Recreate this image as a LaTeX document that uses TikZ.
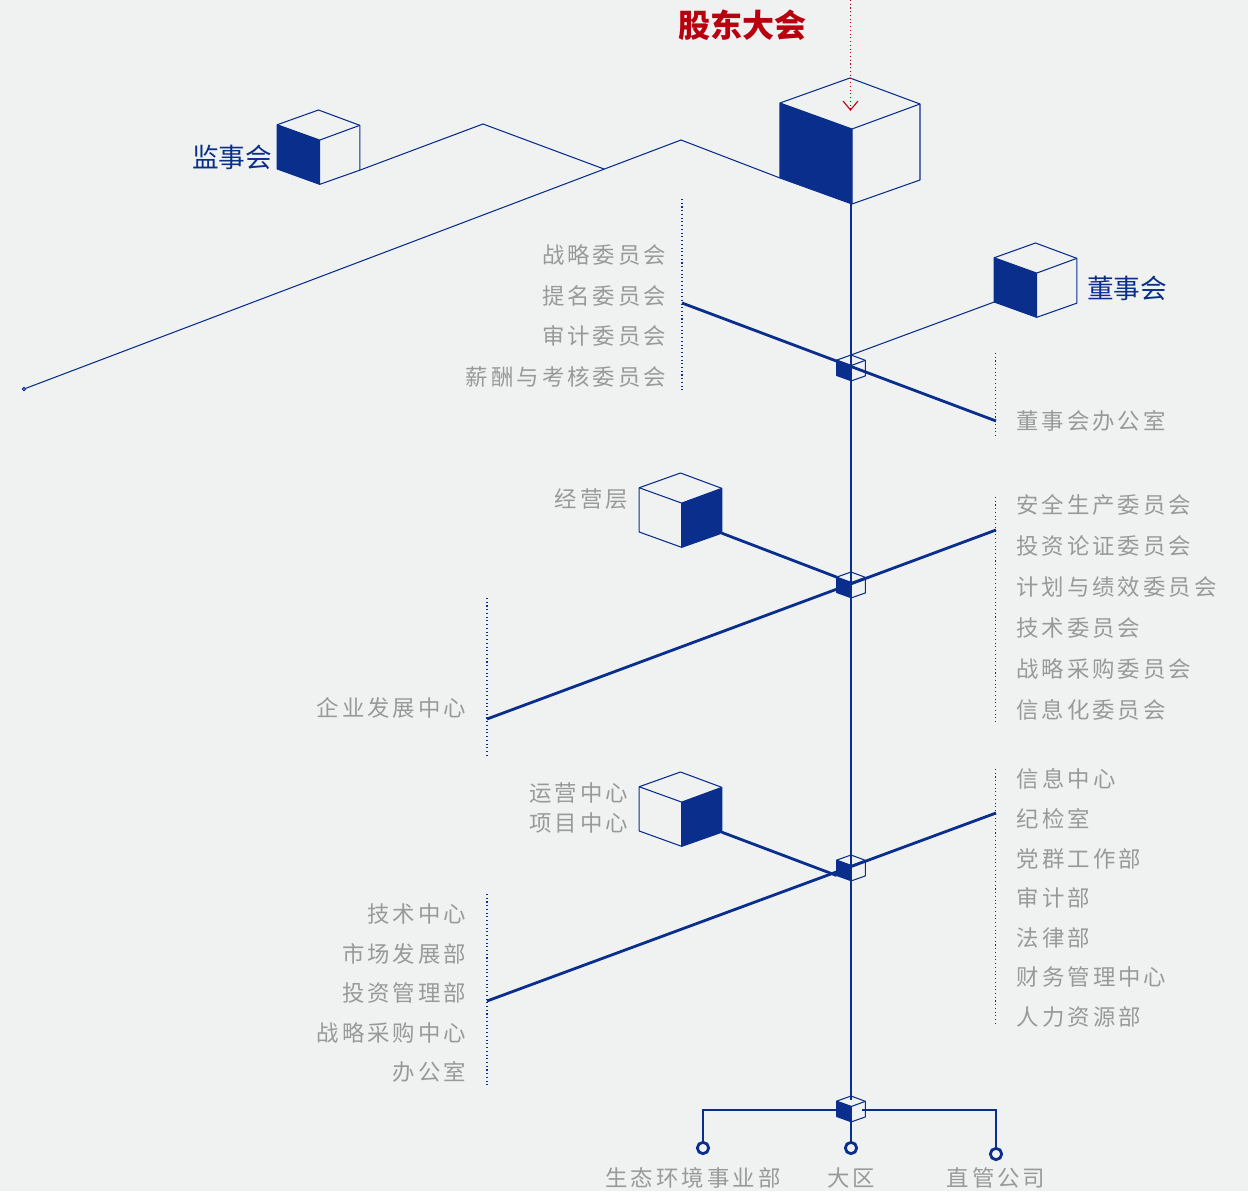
\documentclass[tikz,border=0pt]{standalone}
\usepackage{fontspec}
\newfontfamily\cjk[LetterSpace=13.5]{Noto Sans CJK SC}
\newfontfamily\cjktitle[LetterSpace=0]{Noto Sans CJK SC}
\definecolor{bgcol}{RGB}{240,242,242}
\definecolor{cubeblue}{RGB}{10,46,140}
\definecolor{labelgrey}{RGB}{153,153,153}
\definecolor{titlered}{RGB}{184,0,15}
\tikzset{
  thinline/.style={draw=cubeblue,line width=0.8pt},
  thickline/.style={draw=cubeblue,line width=2.1pt},
  dotline/.style={draw=cubeblue,line width=0.8pt,dotted},
  itemleft/.style={anchor=west,inner sep=0pt,text=labelgrey,font=\cjk\fontsize{16.8pt}{18pt}\selectfont},
  itemright/.style={anchor=east,inner sep=0pt,text=labelgrey,font=\cjk\fontsize{16.8pt}{18pt}\selectfont},
  itemmid/.style={anchor=center,inner sep=0pt,text=labelgrey,font=\cjk\fontsize{16.8pt}{18pt}\selectfont},
  bluelabel/.style={inner sep=0pt,text=cubeblue,font=\cjktitle\fontsize{20pt}{22pt}\selectfont},
  endring/.style={circle,draw=cubeblue,line width=2.1pt,inner sep=0pt,minimum size=8.5pt},
}
% #1 name, #2 top corner, #3 scale
\newcommand{\cubeedges}{
  \coordinate (top) at (0,0);
  \coordinate (left) at (-70,25);
  \coordinate (right) at (70,26);
  \coordinate (mid) at (2,51);
  \coordinate (bottom) at (2,126);
  \coordinate (bl) at (-70,100);
  \coordinate (br) at (70,102);
  \draw[thinline,line join=round] (left) -- (top) -- (right) -- (br) -- (bottom) -- (bl) -- cycle;
  \draw[thinline] (left) -- (mid) -- (right) (mid) -- (bottom);
}
\newcommand{\cubeleft}[3]{
  \begin{scope}[shift={#2},scale=#3,name prefix=#1-]
    \cubeedges
    \fill[cubeblue] (left) -- (mid) -- (bottom) -- (bl) -- cycle;
  \end{scope}
}
\newcommand{\cuberight}[3]{
  \begin{scope}[shift={#2},scale=#3,name prefix=#1-]
    \cubeedges
    \fill[cubeblue] (right) -- (mid) -- (bottom) -- (br) -- cycle;
  \end{scope}
}
\begin{document}
\begin{tikzpicture}[x=0.75pt,y=0.75pt,yscale=-1,xscale=1]
\useasboundingbox (0,0) rectangle (1248,1191);
\fill[bgcol] (0,0) rectangle (1248,1191);

% cubes
\cubeleft{meeting}{(850,78)}{1}
\cubeleft{supervisors}{(318.5,110)}{.59}
\cubeleft{board}{(1035.5,243)}{.59}
\cuberight{managers}{(680.5,473)}{.59}
\cuberight{operations}{(680.5,772)}{.59}
\cubeleft{joinA}{(851,355)}{.205}
\cubeleft{joinB}{(851,572)}{.205}
\cubeleft{joinC}{(851,855)}{.205}
\cubeleft{joinD}{(851,1096)}{.205}

% titles
\node[text=titlered,inner sep=0pt,font=\cjktitle\bfseries\fontsize{24pt}{26pt}\selectfont] (title) at (742,25) {股东大会};
\node[bluelabel,anchor=center] (supervisorstext) at (232,157) {监事会};
\node[bluelabel,anchor=center] (boardtext) at (1127,288) {董事会};

% dotted brackets
\coordinate (brA1) at (682,199); \coordinate (brA2) at (682,390);
\coordinate (brB1) at (995.5,353); \coordinate (brB2) at (995.5,437);
\coordinate (brC1) at (995.5,497); \coordinate (brC2) at (995.5,724);
\coordinate (brD1) at (487,598); \coordinate (brD2) at (487,755);
\coordinate (brE1) at (995.5,769); \coordinate (brE2) at (995.5,1025);
\coordinate (brF1) at (487,894); \coordinate (brF2) at (487,1088);
\foreach \a/\b in {brA1/brA2,brB1/brB2,brC1/brC2,brD1/brD2,brE1/brE2,brF1/brF2}
  \draw[dotline] (\a) -- (\b);

% free ends
\coordinate (peakA) at (483,124);
\coordinate (dropA) at (604,169);
\coordinate (peakB) at (681,140);
\node[circle,draw=cubeblue,line width=0.8pt,inner sep=0pt,minimum size=2.6pt] (farend) at (24,389) {};
\coordinate (armA1) at (682,303); \coordinate (armA2) at (996,421);
\coordinate (armB1) at (996,530); \coordinate (armB2) at (487,719);
\coordinate (armC1) at (996,813); \coordinate (armC2) at (487,1001);
\coordinate (redtop) at (850.5,0); \coordinate (redtip) at (850.5,110);
\coordinate (redl) at (843,101); \coordinate (redr) at (858,101);
\coordinate (busL) at (837,1110); \coordinate (busR) at (862,1110);

% connectors
\draw[thinline] (supervisors-br) -- (peakA) -- (dropA);
\draw[thinline] (farend) -- (peakB) -- (meeting-bl);
\draw[thinline] (board-bl) -- (joinA-top);
\draw[thickline] (armA1) -- (armA2);
\draw[thickline] (armB1) -- (armB2);
\draw[thickline] (armC1) -- (armC2);
\draw[thickline] (managers-br) -- (joinB-left);
\draw[thickline] (operations-br) -- (joinC-bl);
\node[endring] (ringA) at (703,1148) {};
\node[endring] (ringB) at (851,1148) {};
\node[endring] (ringC) at (996,1154) {};
\draw[thickline] (joinD-top |- meeting-bottom) -- ([yshift=3pt]joinD-top);
\draw[thickline] (ringB |- joinD-bottom) -- (ringB);
\draw[thickline] (busL) -| (ringA);
\draw[thickline] (busR) -| (ringC);
\draw[titlered,line width=0.8pt,dotted] (redtop) -- (redtip);
\draw[titlered,line width=0.8pt] (redl) -- (redtip) -- (redr);

% committee lists
\foreach \t/\y [count=\i] in {战略委员会/255,提名委员会/296,审计委员会/336,薪酬与考核委员会/377}
  \node[itemright] (listA\i) at (666.5,\y) {\t};
\node[itemleft] (listB1) at (1016,421) {董事会办公室};
\foreach \t/\y [count=\i] in {安全生产委员会/505,投资论证委员会/546,计划与绩效委员会/587,技术委员会/628,战略采购委员会/669,信息化委员会/710}
  \node[itemleft] (listC\i) at (1016,\y) {\t};
\node[itemright] (listD1) at (466.5,708) {企业发展中心};
\node[itemright] (managerstext) at (628.5,499) {经营层};
\node[itemright] (operationstextA) at (628.5,793) {运营中心};
\node[itemright] (operationstextB) at (628.5,823) {项目中心};
\foreach \t/\y [count=\i] in {信息中心/779,纪检室/819,党群工作部/859,审计部/898,法律部/938,财务管理中心/977,人力资源部/1017}
  \node[itemleft] (listE\i) at (1016.5,\y) {\t};
\foreach \t/\y [count=\i] in {技术中心/914,市场发展部/954,投资管理部/993,战略采购中心/1033,办公室/1072}
  \node[itemright] (listF\i) at (466.5,\y) {\t};
\node[itemmid] (bottomA) at (693,1178) {生态环境事业部};
\node[itemmid] (bottomB) at (851,1178) {大区};
\node[itemmid] (bottomC) at (996,1178) {直管公司};
\end{tikzpicture}
\end{document}
